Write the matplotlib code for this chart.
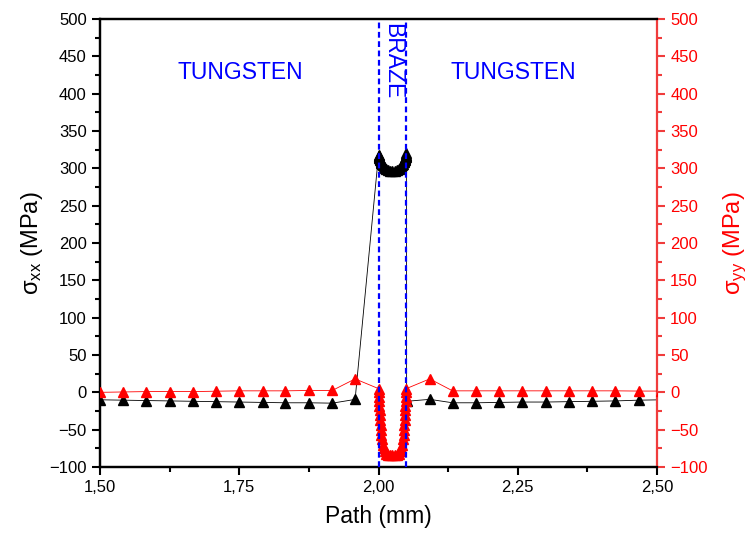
import matplotlib
matplotlib.use("Agg")
import matplotlib.pyplot as plt
from matplotlib.ticker import MultipleLocator, FuncFormatter

plt.rcParams['font.family'] = ['Liberation Sans', 'DejaVu Sans']
plt.rcParams['mathtext.fontset'] = 'custom'
plt.rcParams['mathtext.rm'] = 'Liberation Sans'
plt.rcParams['mathtext.it'] = 'Liberation Sans'

# ---- data ----
x_left = [1.500, 1.542, 1.583, 1.625, 1.667, 1.708, 1.750, 1.792, 1.833, 1.875, 1.917, 1.958]
sxx_left = [-10, -10.5, -11, -11.5, -12, -12.5, -13, -13.5, -14, -14, -14.5, -9.5]
syy_left = [0, 0.5, 1, 1, 1, 1.5, 2, 2, 2, 2.5, 2.5, 18]

x_braze = [2.0000, 2.0004, 2.0008, 2.0012, 2.0016, 2.0020, 2.0025, 2.0030, 2.0036, 2.0043,
           2.0050, 2.0060, 2.0075, 2.0090, 2.0110, 2.0135, 2.0165, 2.0200, 2.0250,
           2.0300, 2.0335, 2.0365, 2.0390, 2.0410, 2.0425, 2.0440, 2.0450, 2.0457,
           2.0464, 2.0470, 2.0475, 2.0480, 2.0484, 2.0488, 2.0492, 2.0496, 2.0500]
sxx_braze = [318, 317, 316, 315, 314, 313, 312, 311, 310, 309,
             307.5, 306, 304, 302, 300, 298.5, 297.5, 297, 297,
             297, 297.5, 298.5, 300, 302, 304, 306, 308, 309.5,
             310.5, 311.5, 312.5, 313.5, 314.5, 315.5, 316.5, 318, 320]
syy_braze = [5, 0, -6, -12, -18, -24, -30, -37, -44, -51,
             -57, -63, -70, -75, -79, -82, -83.5, -84, -84,
             -84, -83.5, -82, -79, -75, -70, -63, -57, -51,
             -44, -37, -30, -24, -18, -12, -6, 0, 5]

x_interface = [2.0505]
sxx_interface = [-12]

x_right = [2.092, 2.133, 2.175, 2.217, 2.258, 2.300, 2.342, 2.383, 2.425, 2.467, 2.508]
sxx_right = [-9.4, -14, -14, -13.5, -13, -13, -12.5, -12, -11.5, -10.5, -10]
syy_right = [18, 2, 2, 2, 2, 2, 2, 2, 2, 1.7, 1.7]

braze_bounds = [2.00, 2.05]
region_labels = ["TUNGSTEN", "BRAZE", "TUNGSTEN"]

x_xx = x_left + x_braze + x_interface + x_right
y_xx = sxx_left + sxx_braze + sxx_interface + sxx_right
x_yy = x_left + x_braze + x_right
y_yy = syy_left + syy_braze + syy_right

RED_AX = '#F03C3C'
BLUE = '#0000FF'

fig = plt.figure(figsize=(7.48, 5.42), dpi=100)
ax = fig.add_axes([100/748, 75/542, 557/748, 448/542])
ax2 = ax.twinx()

ax.plot(x_xx, y_xx, color='black', lw=0.6, marker='^', ms=6.5, mec='black', mfc='black',
        clip_on=True, zorder=3)
ax2.plot(x_yy, y_yy, color='red', lw=0.6, marker='^', ms=6.5, mec='red', mfc='red',
         clip_on=True, zorder=3)

for xb in braze_bounds:
    ax2.axvline(xb, color=BLUE, lw=1.6, dashes=(2.6, 1.6), zorder=5)

ax.set_xlim(1.5, 2.5)
ax.set_ylim(-100, 500)
ax2.set_ylim(-100, 500)

ax.xaxis.set_major_locator(MultipleLocator(0.25))
ax.xaxis.set_minor_locator(MultipleLocator(0.125))
ax.xaxis.set_major_formatter(FuncFormatter(lambda v, p: f"{v:.2f}".replace('.', ',')))
for a in (ax, ax2):
    a.yaxis.set_major_locator(MultipleLocator(50))
    a.yaxis.set_minor_locator(MultipleLocator(25))

ax.tick_params(axis='both', which='major', direction='out', length=6, width=1.5, labelsize=12)
ax.tick_params(axis='both', which='minor', direction='out', length=3.5, width=1.5)
ax.tick_params(axis='x', top=False, which='both')
ax.tick_params(axis='y', right=False, which='both')
ax2.tick_params(axis='y', which='major', direction='out', length=6, width=1.5,
                labelsize=12, colors=RED_AX, labelcolor='red')
ax2.tick_params(axis='y', which='minor', direction='out', length=3.5, width=1.5, colors=RED_AX)

for s in ['left', 'bottom', 'top']:
    ax.spines[s].set_linewidth(1.6)
    ax2.spines[s].set_linewidth(1.6)
ax2.spines['right'].set_linewidth(1.6)
ax2.spines['right'].set_color(RED_AX)
ax.spines['right'].set_visible(False)

ax.set_xlabel("Path (mm)", fontsize=16.5, labelpad=7)
ax.set_ylabel(r"σ$_{\mathregular{xx}}$ (MPa)", fontsize=17, labelpad=3)
ax2.set_ylabel(r"σ$_{\mathregular{yy}}$ (MPa)", fontsize=17, color='red', rotation=90, labelpad=10)

ax2.text(1.752, 428, region_labels[0], color=BLUE, fontsize=16.5, ha='center', va='center', zorder=6)
ax2.text(2.0255, 444, region_labels[1], color=BLUE, fontsize=16.5, ha='center', va='center',
         rotation=-90, zorder=6)
ax2.text(2.242, 428, region_labels[2], color=BLUE, fontsize=16.5, ha='center', va='center', zorder=6)

fig.savefig("out.png", dpi=100)
